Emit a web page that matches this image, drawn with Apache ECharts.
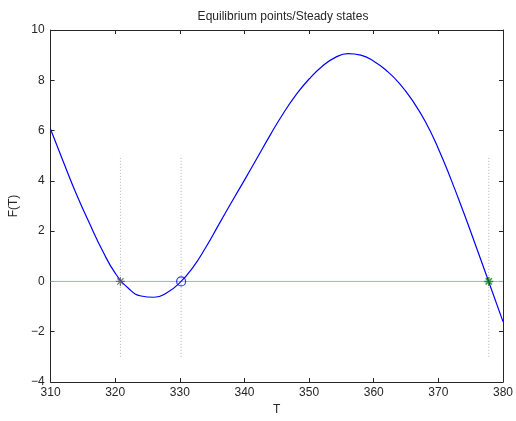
<!DOCTYPE html>
<html>
<head>
<meta charset="utf-8">
<script src="https://cdn.jsdelivr.net/npm/echarts@6/dist/echarts.min.js"></script>
<style>
  html, body { margin: 0; padding: 0; background: #fff; }
  #chart { width: 516px; height: 421px; }
</style>
</head>
<body>
<div id="chart"></div>
<script>
// F(T) curve
const tValues = [310, 312, 314, 316, 318, 320, 322, 324, 326, 328, 330, 332, 334, 336, 338, 340, 342, 344, 346, 348, 350, 352, 354, 356, 358, 360, 362, 364, 366, 368, 370, 372, 374, 376, 378, 380]
const fValues = [6.05, 4.74, 3.47, 2.32, 1.24, 0.33, -0.26, -0.58, -0.63, -0.45, -0.05, 0.55, 1.35, 2.25, 3.15, 4.03, 4.93, 5.83, 6.68, 7.43, 8.05, 8.55, 8.9, 9.06, 9.0, 8.76, 8.38, 7.87, 7.19, 6.35, 5.28, 4.03, 2.68, 1.27, -0.16, -1.6]
// steady states
const eqT = [320.8, 330.2, 377.8]
const guideRange = [-3, 5]

const chart = echarts.init(document.getElementById('chart'))

const fmt = function (v) { return String(v).replace('-', '\u2212') }
const axisColor = '#262626'
const star = 'path://M0,-5L0,5M-5,0L5,0M-3.5,-3.5L3.5,3.5M-3.5,3.5L3.5,-3.5'

const guides = eqT.map(function (t) {
  return {
    type: 'line',
    data: [[t, guideRange[0]], [t, guideRange[1]]],
    symbol: 'none',
    silent: true,
    lineStyle: { color: '#b0b0b8', width: 1, type: [1, 2] },
    z: 1
  }
})

const option = {
  animation: false,
  title: {
    text: 'Equilibrium points/Steady states',
    left: 278,
    top: 6,
    textAlign: 'center',
    textStyle: { fontFamily: 'Liberation Sans', fontSize: 12, fontWeight: 'normal', color: axisColor }
  },
  grid: { left: 50, right: 11, top: 30, bottom: 34 },
  xAxis: [
    {
      type: 'value',
      min: 310,
      max: 380,
      interval: 10,
      name: 'T',
      nameLocation: 'middle',
      nameGap: 22,
      nameTextStyle: { fontFamily: 'Liberation Sans', fontSize: 12, color: axisColor },
      axisLine: { onZero: false, lineStyle: { color: axisColor, width: 1 } },
      axisTick: { inside: true, length: 4, lineStyle: { color: axisColor } },
      axisLabel: { fontFamily: 'Liberation Sans', fontSize: 12, color: axisColor, margin: 5, formatter: fmt },
      splitLine: { show: false }
    },
    {
      type: 'value',
      position: 'top',
      min: 310,
      max: 380,
      interval: 10,
      axisLine: { onZero: false, lineStyle: { color: axisColor, width: 1 } },
      axisTick: { inside: true, length: 4, lineStyle: { color: axisColor } },
      axisLabel: { show: false },
      splitLine: { show: false }
    }
  ],
  yAxis: [
    {
      type: 'value',
      min: -4,
      max: 10,
      interval: 2,
      name: 'F(T)',
      nameLocation: 'middle',
      nameGap: 30,
      nameRotate: 90,
      nameTextStyle: { fontFamily: 'Liberation Sans', fontSize: 12, color: axisColor },
      axisLine: { show: true, onZero: false, lineStyle: { color: axisColor, width: 1 } },
      axisTick: { show: true, inside: true, length: 4, lineStyle: { color: axisColor } },
      axisLabel: { fontFamily: 'Liberation Sans', fontSize: 12, color: axisColor, margin: 6, formatter: fmt },
      splitLine: { show: false }
    },
    {
      type: 'value',
      position: 'right',
      min: -4,
      max: 10,
      interval: 2,
      axisLine: { show: true, onZero: false, lineStyle: { color: axisColor, width: 1 } },
      axisTick: { show: true, inside: true, length: 4, lineStyle: { color: axisColor } },
      axisLabel: { show: false },
      splitLine: { show: false }
    }
  ],
  series: guides.concat([
    {
      type: 'line',
      data: [[310, 0], [380, 0]],
      symbol: 'none',
      silent: true,
      lineStyle: { color: '#44dede', width: 1 },
      z: 2
    },
    {
      type: 'line',
      data: tValues.map(function (t, i) { return [t, fValues[i]] }),
      smooth: 0.5,
      symbol: 'none',
      lineStyle: { color: '#0000ff', width: 1.2 },
      z: 3
    },
    {
      type: 'scatter',
      data: [[eqT[0], 0]],
      symbol: star,
      symbolSize: 9,
      itemStyle: { color: 'none', borderColor: '#555555', borderWidth: 1.2 },
      z: 4
    },
    {
      type: 'scatter',
      data: [[eqT[1], 0]],
      symbol: 'circle',
      symbolSize: 9,
      itemStyle: { color: 'none', borderColor: '#0000ff', borderWidth: 1.2 },
      z: 4
    },
    {
      type: 'scatter',
      data: [[eqT[2], 0]],
      symbol: star,
      symbolSize: 9,
      itemStyle: { color: 'none', borderColor: '#008000', borderWidth: 1.4 },
      z: 4
    }
  ])
}

chart.setOption(option)
</script>
</body>
</html>
